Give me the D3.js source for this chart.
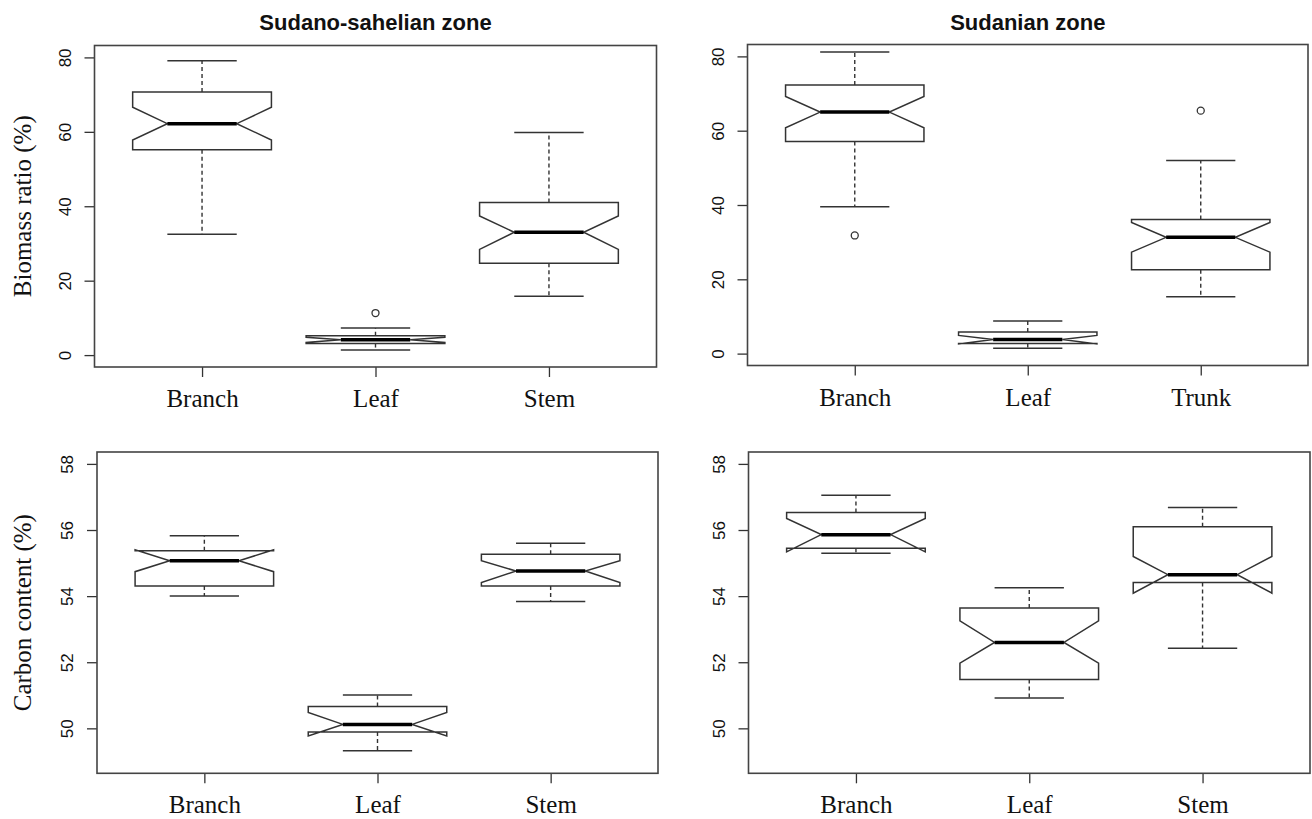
<!DOCTYPE html>
<html>
<head>
<meta charset="utf-8">
<script src="https://cdn.jsdelivr.net/npm/d3@7"></script>
<style>
  body { margin: 0; background: #fff; }
  .tick line { stroke: #333; stroke-width: 1.3; }
</style>
</head>
<body>
<div id="chart"></div>
<script>
// Titres et libellés
const zoneTitles = ["Sudano-sahelian zone", "Sudanian zone"];
const biomassLabel = "Biomass ratio (%)";
const carbonLabel = "Carbon content (%)";

const ssGroups = ["Branch", "Leaf", "Stem"];
const suGroups = ["Branch", "Leaf", "Trunk"];
const carbonGroups = ["Branch", "Leaf", "Stem"];

// limites (ylim de R) et graduations
const biomassLim = [0, 80];
const biomassTicks = [0, 20, 40, 60, 80];
const carbonLim = [49, 58];
const carbonTicks = [50, 52, 54, 56, 58];

// [moustache basse, Q1, médiane, Q3, moustache haute]
const ssBiomassFive = [[32.5, 55.2, 62.2, 70.7, 79.1], [1.35, 3.1, 4.1, 5.2, 7.3], [15.8, 24.7, 33.0, 41.0, 59.8]];
const ssBiomassNotch = [[57.8, 66.6], [3.4, 4.8], [28.4, 37.4]];
const ssBiomassOut = [[], [11.3], []];

const suBiomassFive = [[39.5, 57.1, 65.0, 72.3, 81.2], [1.45, 2.7, 3.8, 5.8, 8.8], [15.3, 22.6, 31.3, 36.1, 52.0]];
const suBiomassNotch = [[60.8, 69.2], [2.6, 4.9], [27.3, 35.3]];
const suBiomassOut = [[31.8], [], [65.4]];

const ssCarbonFive = [[54.0, 54.31, 55.07, 55.37, 55.83], [49.32, 49.89, 50.12, 50.66, 51.01], [53.84, 54.31, 54.76, 55.27, 55.6]];
const ssCarbonNotch = [[54.74, 55.40], [49.77, 50.48], [54.41, 55.07]];
const ssCarbonOut = [[], [], []];

const suCarbonFive = [[55.30, 55.45, 55.86, 56.53, 57.05], [50.92, 51.48, 52.60, 53.64, 54.25], [52.42, 54.41, 54.65, 56.10, 56.68]];
const suCarbonNotch = [[55.34, 56.35], [51.97, 53.25], [54.09, 55.20]];
const suCarbonOut = [[], [], []];

const svg = d3.select("#chart")
    .append("svg")
    .attr("width", 1312)
    .attr("height", 819)
    .style("background", "#fff");

// position des 4 cadres
const panels = [
    { title: zoneTitles[0], ylab: biomassLabel, groups: ssGroups, five: ssBiomassFive, notch: ssBiomassNotch, out: ssBiomassOut,
      lim: biomassLim, ticks: biomassTicks, left: 94.5, right: 656.5, top: 45.5, bottom: 367 },
    { title: zoneTitles[1], ylab: null, groups: suGroups, five: suBiomassFive, notch: suBiomassNotch, out: suBiomassOut,
      lim: biomassLim, ticks: biomassTicks, left: 747.5, right: 1308, top: 44.5, bottom: 365.5 },
    { title: null, ylab: carbonLabel, groups: carbonGroups, five: ssCarbonFive, notch: ssCarbonNotch, out: ssCarbonOut,
      lim: carbonLim, ticks: carbonTicks, left: 97, right: 658, top: 452, bottom: 773.3 },
    { title: null, ylab: null, groups: carbonGroups, five: suCarbonFive, notch: suCarbonNotch, out: suCarbonOut,
      lim: carbonLim, ticks: carbonTicks, left: 748.5, right: 1310, top: 452, bottom: 773.3 }
];

const sans = "'Liberation Sans', Arial, sans-serif";
const serif = "'Liberation Serif', 'Times New Roman', serif";
const lineCol = "#333";

panels.forEach(p => {
    // étendue de 4 % comme R
    const pad = 0.04 * (p.lim[1] - p.lim[0]);
    const y = d3.scaleLinear().domain([p.lim[0] - pad, p.lim[1] + pad]).range([p.bottom, p.top]);
    const x = d3.scaleLinear().domain([0.38, 3.62]).range([p.left, p.right]);
    const w = x(1.4) - x(1);   // demi-largeur de la boîte

    const g = svg.append("g");

    // axe Y
    const yAxis = g.append("g")
        .attr("transform", `translate(${p.left},0)`)
        .call(d3.axisLeft(y).tickValues(p.ticks).tickSize(10).tickFormat(d3.format("d")));
    yAxis.select(".domain").remove();
    yAxis.selectAll("text")
        .attr("x", 0)
        .attr("y", -24)
        .attr("dy", null)
        .attr("transform", "rotate(-90)")
        .attr("text-anchor", "middle")
        .attr("fill", "#111")
        .style("font-family", sans)
        .style("font-size", "17px");

    // axe X
    const xAxis = g.append("g")
        .attr("transform", `translate(0,${p.bottom})`)
        .call(d3.axisBottom(x).tickValues([1, 2, 3]).tickSize(10).tickFormat(i => p.groups[i - 1]));
    xAxis.select(".domain").remove();
    xAxis.selectAll("text")
        .attr("y", 40)
        .attr("dy", null)
        .attr("fill", "#111")
        .style("font-family", serif)
        .style("font-size", "25px");

    // titre du panneau
    if (p.title) {
        g.append("text")
            .attr("x", (p.left + p.right) / 2)
            .attr("y", 30)
            .attr("text-anchor", "middle")
            .style("font-family", sans)
            .style("font-weight", "bold")
            .style("font-size", "22px")
            .attr("fill", "#111")
            .text(p.title);
    }

    // titre de l'axe Y
    if (p.ylab) {
        const cy = (p.top + p.bottom) / 2;
        g.append("text")
            .attr("transform", `translate(31,${cy}) rotate(-90)`)
            .attr("text-anchor", "middle")
            .style("font-family", serif)
            .style("font-size", "25px")
            .attr("fill", "#111")
            .text(p.ylab);
    }

    const data = p.five.map((f, i) => ({
        pos: i + 1, lo: f[0], q1: f[1], med: f[2], q3: f[3], hi: f[4],
        nLo: p.notch[i][0], nHi: p.notch[i][1], out: p.out[i]
    }));

    const boxes = g.selectAll("g.box")
        .data(data)
        .enter()
        .append("g")
        .attr("class", "box");

    // moustaches en pointillés
    boxes.append("line")
        .attr("x1", d => x(d.pos)).attr("x2", d => x(d.pos))
        .attr("y1", d => y(d.q3)).attr("y2", d => y(d.hi))
        .attr("stroke", lineCol).attr("stroke-width", 1.4).attr("stroke-dasharray", "4,3");
    boxes.append("line")
        .attr("x1", d => x(d.pos)).attr("x2", d => x(d.pos))
        .attr("y1", d => y(d.q1)).attr("y2", d => y(d.lo))
        .attr("stroke", lineCol).attr("stroke-width", 1.4).attr("stroke-dasharray", "4,3");

    // extrémités
    [d => d.hi, d => d.lo].forEach(f => {
        boxes.append("line")
            .attr("x1", d => x(d.pos) - w / 2).attr("x2", d => x(d.pos) + w / 2)
            .attr("y1", d => y(f(d))).attr("y2", d => y(f(d)))
            .attr("stroke", lineCol).attr("stroke-width", 1.5);
    });

    // boîte avec encoches (même tracé que bxp de R)
    boxes.append("path")
        .attr("d", d => {
            const c = x(d.pos);
            const pts = [
                [c - w, y(d.q1)], [c + w, y(d.q1)], [c + w, y(d.nLo)], [c + w / 2, y(d.med)],
                [c + w, y(d.nHi)], [c + w, y(d.q3)], [c - w, y(d.q3)], [c - w, y(d.nHi)],
                [c - w / 2, y(d.med)], [c - w, y(d.nLo)]
            ];
            return d3.line()(pts) + "Z";
        })
        .attr("fill", "#fff")
        .attr("stroke", lineCol)
        .attr("stroke-width", 1.5)
        .attr("stroke-linejoin", "miter");

    // médiane
    boxes.append("line")
        .attr("x1", d => x(d.pos) - w / 2).attr("x2", d => x(d.pos) + w / 2)
        .attr("y1", d => y(d.med)).attr("y2", d => y(d.med))
        .attr("stroke", "#000").attr("stroke-width", 3.5);

    // valeurs aberrantes
    boxes.selectAll("circle")
        .data(d => d.out.map(v => ({ pos: d.pos, v })))
        .enter()
        .append("circle")
        .attr("cx", d => x(d.pos))
        .attr("cy", d => y(d.v))
        .attr("r", 3.5)
        .attr("fill", "none")
        .attr("stroke", lineCol)
        .attr("stroke-width", 1.3);

    // cadre
    g.append("rect")
        .attr("x", p.left).attr("y", p.top)
        .attr("width", p.right - p.left).attr("height", p.bottom - p.top)
        .attr("fill", "none")
        .attr("stroke", "#444")
        .attr("stroke-width", 1.6);
});
</script>
</body>
</html>
